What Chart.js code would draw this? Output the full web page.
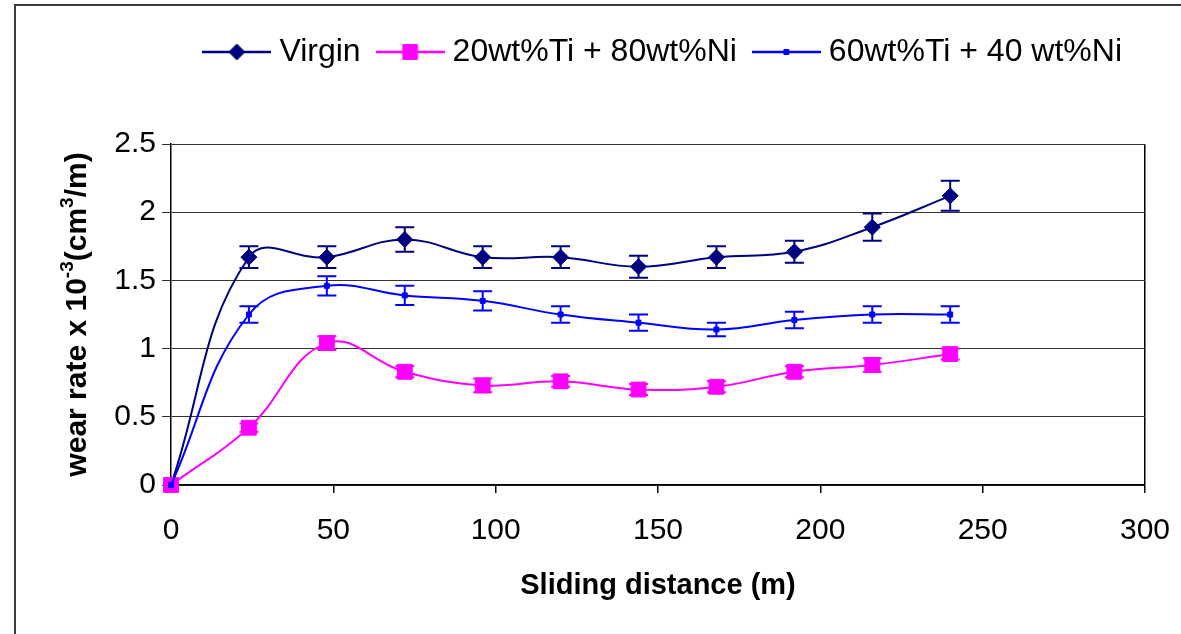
<!DOCTYPE html>
<html>
<head>
<meta charset="utf-8">
<script src="https://cdn.jsdelivr.net/npm/chart.js@4.4.1/dist/chart.umd.min.js"></script>
<style>
  html, body { margin: 0; padding: 0; background: #fff; }
  #wrap { width: 1181px; height: 634px; position: relative; }
</style>
</head>
<body>
<div id="wrap"><canvas id="c"></canvas></div>
<script>
// Sliding distance (m)
const distance = [0, 24, 48, 72, 96, 120, 144, 168, 192, 216, 240];

const seriesNames = ['Virgin', '20wt%Ti + 80wt%Ni', '60wt%Ti + 40 wt%Ni'];

// Wear rate x 10^-3 (cm^3/m) and the half-height of each error bar
const virgin      = [0, 1.67, 1.67, 1.80, 1.67, 1.67, 1.60, 1.67, 1.71, 1.89, 2.12];
const virginErr   = [0, 0.08, 0.08, 0.09, 0.08, 0.08, 0.08, 0.08, 0.08, 0.10, 0.11];
const ti20ni80    = [0, 0.42, 1.04, 0.83, 0.73, 0.76, 0.70, 0.72, 0.83, 0.88, 0.96];
const ti20ni80Err = [0, 0.03, 0.05, 0.04, 0.05, 0.04, 0.04, 0.04, 0.04, 0.05, 0.04];
const ti60ni40    = [0, 1.25, 1.46, 1.39, 1.35, 1.25, 1.19, 1.14, 1.21, 1.25, 1.25];
const ti60ni40Err = [0, 0.06, 0.07, 0.07, 0.07, 0.06, 0.06, 0.05, 0.06, 0.06, 0.06];

// Axis tick labels
const xTickLabels = ['0', '50', '100', '150', '200', '250', '300'];
const yTickLabels = ['0', '0.5', '1', '1.5', '2', '2.5'];

const FONT = "'Liberation Sans', Arial, Helvetica, sans-serif";
const colors = ['#000080', '#FF00FF', '#0000FF'];
const markerStyles = [
  { pointStyle: 'rectRot', radius: 8 },
  { pointStyle: 'rect', radius: 10.5 },
  { pointStyle: 'rect', radius: 3.5 }
];

function points(values) {
  return distance.map((x, i) => ({ x: x, y: values[i] }));
}

// Legend swatch: a short line with the series marker in its middle
function legendIcon(i) {
  const c = document.createElement('canvas');
  c.width = 69; c.height = 26;
  const g = c.getContext('2d');
  g.strokeStyle = colors[i];
  g.lineWidth = 2.5;
  g.beginPath(); g.moveTo(0, 13); g.lineTo(69, 13); g.stroke();
  g.fillStyle = colors[i];
  g.lineWidth = 1;
  Chart.helpers.drawPoint(g, { pointStyle: markerStyles[i].pointStyle, radius: markerStyles[i].radius, borderWidth: 1, rotation: 0 }, 34.5, 13);
  return c;
}

// Vertical error bars with caps, drawn just before each series
const errorBars = {
  id: 'errorBars',
  beforeDatasetDraw(chart, args) {
    const ds = chart.data.datasets[args.index];
    const errs = ds.errors;
    if (!errs) return;
    const { ctx } = chart;
    const xs = chart.scales.x, ys = chart.scales.y;
    ctx.save();
    ctx.strokeStyle = ds.borderColor;
    ctx.lineWidth = 2;
    ds.data.forEach((p, i) => {
      const e = errs[i];
      if (!e) return;
      const px = xs.getPixelForValue(p.x);
      const yTop = ys.getPixelForValue(p.y + e);
      const yBot = ys.getPixelForValue(p.y - e);
      ctx.beginPath();
      ctx.moveTo(px, yTop); ctx.lineTo(px, yBot);
      ctx.moveTo(px - 9.5, yTop); ctx.lineTo(px + 9.5, yTop);
      ctx.moveTo(px - 9.5, yBot); ctx.lineTo(px + 9.5, yBot);
      ctx.stroke();
    });
    ctx.restore();
  }
};

// White page with the chart-area frame on the left and top
const frame = {
  id: 'frame',
  beforeDraw(chart) {
    const { ctx, width, height } = chart;
    ctx.save();
    ctx.fillStyle = '#fff';
    ctx.fillRect(0, 0, width, height);
    ctx.strokeStyle = '#3c3c3c';
    ctx.lineWidth = 2;
    ctx.beginPath();
    ctx.moveTo(15, height); ctx.lineTo(15, 5); ctx.lineTo(width, 5);
    ctx.stroke();
    ctx.restore();
  }
};

// Rotated y-axis title with superscripts
const yTitle = {
  id: 'yTitle',
  afterDraw(chart) {
    const { ctx, chartArea } = chart;
    const big = 'bold 30px ' + FONT;
    const small = 'bold 19px ' + FONT;
    const parts = [
      { t: 'wear rate x 10', f: big, dy: 0 },
      { t: '-3', f: small, dy: -10 },
      { t: '(cm', f: big, dy: 0 },
      { t: '3', f: small, dy: -10 },
      { t: '/m)', f: big, dy: 0 }
    ];
    ctx.save();
    let total = 0;
    parts.forEach(p => { ctx.font = p.f; p.w = ctx.measureText(p.t).width; total += p.w; });
    ctx.translate(78, (chartArea.top + chartArea.bottom) / 2);
    ctx.rotate(-Math.PI / 2);
    ctx.fillStyle = '#000';
    ctx.textBaseline = 'middle';
    ctx.textAlign = 'left';
    let x = -total / 2;
    parts.forEach(p => { ctx.font = p.f; ctx.fillText(p.t, x, p.dy); x += p.w; });
    ctx.restore();
  }
};

const seriesValues = [virgin, ti20ni80, ti60ni40];
const seriesErrors = [virginErr, ti20ni80Err, ti60ni40Err];

const datasets = seriesValues.map((vals, i) => ({
  label: seriesNames[i],
  data: points(vals),
  errors: seriesErrors[i],
  borderColor: colors[i],
  backgroundColor: colors[i],
  borderWidth: 2,
  tension: 0.42,
  clip: false,
  pointStyle: markerStyles[i].pointStyle,
  pointRadius: markerStyles[i].radius,
  pointHoverRadius: markerStyles[i].radius,
  pointBorderWidth: 1,
  pointBorderColor: colors[i],
  pointBackgroundColor: colors[i],
  order: 3 - i,
  xAxisID: 'x',
  yAxisID: 'y'
}));

const icons = [0, 1, 2].map(legendIcon);

new Chart(document.getElementById('c'), {
  type: 'line',
  data: { datasets: datasets },
  plugins: [frame, errorBars, yTitle],
  options: {
    responsive: true,
    maintainAspectRatio: false,
    animation: false,
    events: [],
    layout: { padding: { top: 13, left: 0, right: 36, bottom: 0 } },
    plugins: {
      tooltip: { enabled: false },
      legend: {
        display: true,
        position: 'top',
        align: 'end',
        labels: {
          usePointStyle: true,
          pointStyleWidth: 53,
          padding: 23,
          color: '#000',
          font: { family: FONT, size: 32 },
          generateLabels() {
            return seriesNames.map((n, i) => ({
              text: n, pointStyle: icons[i], fillStyle: colors[i], strokeStyle: colors[i],
              lineWidth: 0, hidden: false, datasetIndex: i, fontColor: '#000'
            }));
          }
        }
      },
      subtitle: {
        display: true,
        text: ' ',
        weight: 500,
        font: { size: 10 },
        padding: { top: 0, bottom: 54 }
      }
    },
    scales: {
      x: {
        type: 'linear',
        position: 'bottom',
        min: 0, max: 300,
        afterFit(s) { s.height = 149; s.paddingLeft = 0; s.paddingRight = 0; },
        ticks: {
          stepSize: 50, autoSkip: false, maxRotation: 0, color: '#000', padding: 20,
          font: { family: FONT, size: 30 },
          callback: (v, i) => xTickLabels[i]
        },
        grid: {
          color: c => (c.tick && c.tick.value === 300) ? '#000' : 'rgba(0,0,0,0)',
          tickColor: '#000',
          tickLength: 8,
          lineWidth: 1.5
        },
        border: { color: '#000', width: 1.5 },
        title: {
          display: true,
          text: 'Sliding distance (m)',
          color: '#000',
          font: { family: FONT, size: 29, weight: 'bold' },
          padding: { top: 0, bottom: 31 }
        }
      },
      y: {
        type: 'linear',
        position: 'left',
        min: 0, max: 2.5,
        afterFit(s) { s.width = 171; },
        ticks: {
          stepSize: 0.5, color: '#000', padding: 6,
          font: { family: FONT, size: 30 },
          callback: (v, i) => yTickLabels[i]
        },
        grid: { color: '#333', lineWidth: 1, tickColor: '#333', tickLength: 9 },
        border: { color: '#000', width: 1.5 }
      }
    }
  }
});
</script>
</body>
</html>
